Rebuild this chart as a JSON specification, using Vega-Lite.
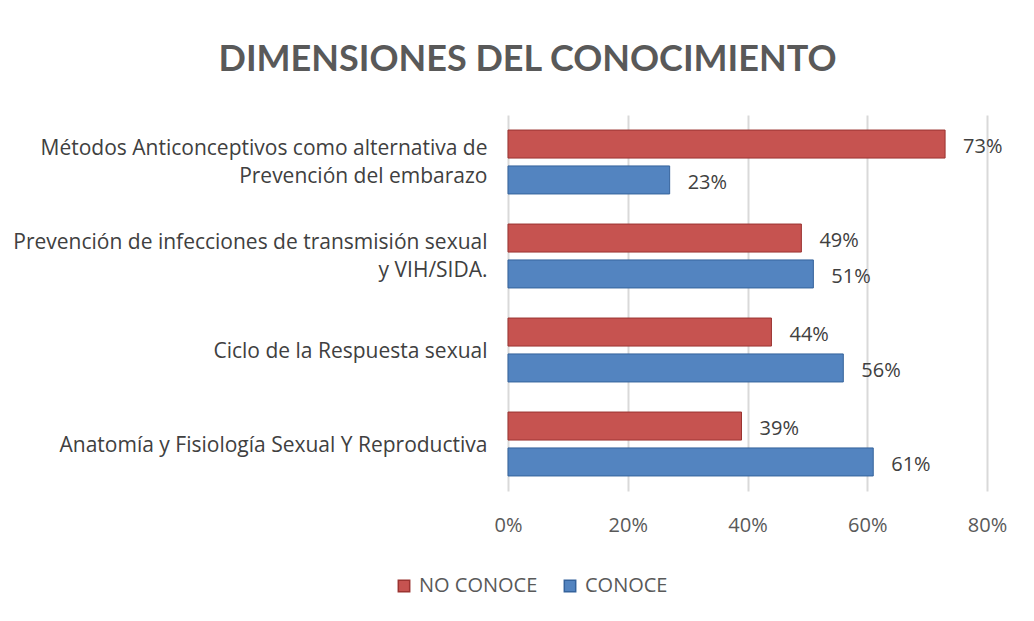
{
  "$schema": "https://vega.github.io/schema/vega-lite/v6.json",
  "autosize": {"type": "none"},
  "width": 479,
  "height": 376,
  "padding": {"left": 508, "top": 115, "right": 47, "bottom": 130},
  "background": "white",
  "title": {
    "text": "DIMENSIONES DEL CONOCIMIENTO",
    "font": "Lato",
    "fontSize": 36,
    "fontWeight": "bold",
    "color": "#595959",
    "anchor": "middle",
    "dx": -220,
    "offset": 36
  },
  "data": {
    "values": [
      {"cat": "Métodos Anticonceptivos como alternativa de|Prevención del embarazo", "serie": "NO CONOCE", "valor": 0.73, "label": "73%"},
      {"cat": "Métodos Anticonceptivos como alternativa de|Prevención del embarazo", "serie": "CONOCE", "valor": 0.27, "label": "23%"},
      {"cat": "Prevención de infecciones de transmisión sexual|y VIH/SIDA.", "serie": "NO CONOCE", "valor": 0.49, "label": "49%"},
      {"cat": "Prevención de infecciones de transmisión sexual|y VIH/SIDA.", "serie": "CONOCE", "valor": 0.51, "label": "51%"},
      {"cat": "Ciclo de la Respuesta sexual", "serie": "NO CONOCE", "valor": 0.44, "label": "44%"},
      {"cat": "Ciclo de la Respuesta sexual", "serie": "CONOCE", "valor": 0.56, "label": "56%"},
      {"cat": "Anatomía y Fisiología Sexual Y Reproductiva", "serie": "NO CONOCE", "valor": 0.39, "label": "39%"},
      {"cat": "Anatomía y Fisiología Sexual Y Reproductiva", "serie": "CONOCE", "valor": 0.61, "label": "61%"}
    ]
  },
  "encoding": {
    "y": {
      "field": "cat",
      "type": "nominal",
      "sort": null,
      "scale": {"paddingInner": 0.32, "paddingOuter": 0.16},
      "axis": {
        "title": null,
        "domain": false,
        "ticks": false,
        "labelFont": "Open Sans",
        "labelFontSize": 21,
        "labelColor": "#404040",
        "labelPadding": 21,
        "labelLineHeight": 28,
        "labelLimit": 600,
        "labelOffset": {"condition": {"test": "indexof(datum.value, '|') >= 0", "value": -13}, "value": 2},
        "labelExpr": "split(datum.value, '|')"
      }
    },
    "yOffset": {
      "field": "serie",
      "type": "nominal",
      "sort": ["NO CONOCE", "CONOCE"],
      "scale": {"paddingInner": 0.22, "paddingOuter": 0}
    },
    "x": {
      "field": "valor",
      "type": "quantitative",
      "scale": {"domain": [0, 0.8], "nice": false},
      "axis": {
        "title": null,
        "values": [0, 0.2, 0.4, 0.6, 0.8],
        "format": ".0%",
        "domain": false,
        "ticks": false,
        "grid": true,
        "gridColor": "#d9d9d9",
        "gridWidth": 2,
        "labelFlush": false,
        "labelFont": "Open Sans",
        "labelFontSize": 20,
        "labelColor": "#595959",
        "labelPadding": 24
      }
    }
  },
  "layer": [
    {
      "mark": {"type": "bar", "strokeWidth": 1},
      "encoding": {
        "color": {
          "field": "serie",
          "type": "nominal",
          "sort": ["NO CONOCE", "CONOCE"],
          "scale": {"domain": ["NO CONOCE", "CONOCE"], "range": ["#C65350", "#5384C0"]},
          "legend": {
            "title": null,
            "orient": "none",
            "legendX": -114,
            "legendY": 461,
            "direction": "horizontal",
            "symbolType": "square",
            "symbolSize": 130,
            "labelFont": "Open Sans",
            "labelFontSize": 20,
            "labelColor": "#595959",
            "columnPadding": 22,
            "labelOffset": 5
          }
        },
        "stroke": {
          "field": "serie",
          "type": "nominal",
          "scale": {"domain": ["NO CONOCE", "CONOCE"], "range": ["#9B3431", "#35639C"]},
          "legend": null
        }
      }
    },
    {
      "mark": {"type": "text", "align": "left", "baseline": "middle", "dx": 18, "dy": 3, "font": "Open Sans", "fontSize": 20, "color": "#404040"},
      "encoding": {
        "text": {"field": "label"}
      }
    }
  ],
  "config": {
    "view": {"stroke": null}
  }
}
